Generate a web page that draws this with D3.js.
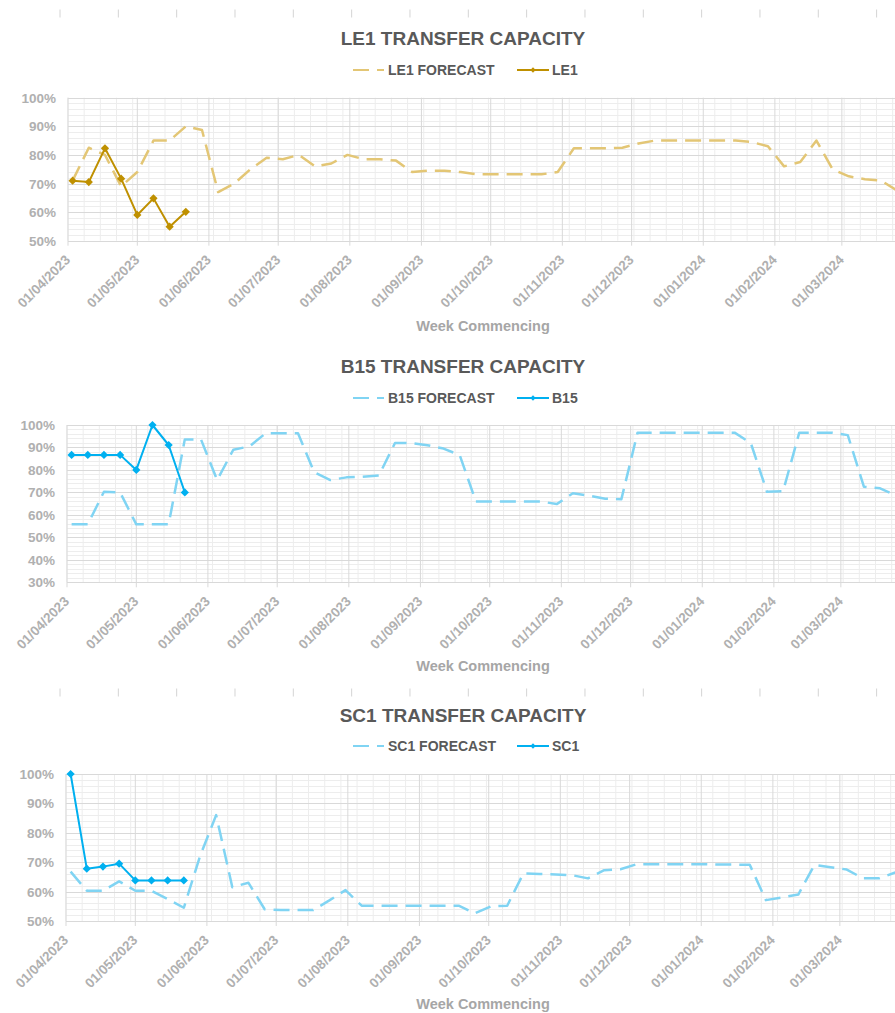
<!DOCTYPE html>
<html>
<head>
<meta charset="utf-8">
<script src="https://cdn.jsdelivr.net/npm/d3@7"></script>
<style>
  body { margin: 0; background: #fff; }
  svg { display: block; font-family: "Liberation Sans", Arial, sans-serif; }
</style>
</head>
<body>
<div id="container"></div>
<script>
// week commencing dates (Mondays)
var weeks = [
  "03/04/2023","10/04/2023","17/04/2023","24/04/2023","01/05/2023","08/05/2023","15/05/2023","22/05/2023","29/05/2023",
  "05/06/2023","12/06/2023","19/06/2023","26/06/2023","03/07/2023","10/07/2023","17/07/2023","24/07/2023","31/07/2023",
  "07/08/2023","14/08/2023","21/08/2023","28/08/2023","04/09/2023","11/09/2023","18/09/2023","25/09/2023",
  "02/10/2023","09/10/2023","16/10/2023","23/10/2023","30/10/2023","06/11/2023","13/11/2023","20/11/2023","27/11/2023",
  "04/12/2023","11/12/2023","18/12/2023","25/12/2023","01/01/2024","08/01/2024","15/01/2024","22/01/2024","29/01/2024",
  "05/02/2024","12/02/2024","19/02/2024","26/02/2024","04/03/2024","11/03/2024","18/03/2024","25/03/2024"
];

// values in %
var le1Forecast = [71, 82.5, 80, 69, 74, 85, 85, 90, 88.7, 67, 70, 75, 79, 78.5, 80, 76, 77, 80,
  78.5, 78.5, 78, 74, 74.5, 74.5, 74, 73.2, 73.2, 73.2, 73.2, 73.2, 74, 82.3, 82.3, 82.3, 82.5,
  84, 85, 85, 85, 85, 85, 85, 84.5, 83, 76, 77.5, 85, 75, 72.5, 71.5, 71, 67.5];
var le1Actual = [71, 70.5, 82.3, 71.7, 59, 64.8, 54.9, 60.1];

var b15Forecast = [55.8, 55.8, 70.3, 70, 55.8, 55.8, 55.8, 93.6, 93.6, 75.5, 89, 90.5, 96.3, 96.3, 96.3, 79, 75.5, 76.7,
  77, 77.5, 92, 92, 91, 89.5, 86.6, 66, 66, 66, 66, 66, 64.8, 69.6, 68.5, 67.2, 67,
  96.6, 96.6, 96.6, 96.6, 96.6, 96.6, 96.6, 92, 70.3, 70.5, 96.6, 96.6, 96.6, 95.5, 72.5, 71.8, 68.5];
var b15Actual = [86.7, 86.7, 86.7, 86.7, 80, 100, 91.1, 70];

var sc1Forecast = [66.8, 60.3, 60.3, 63.5, 60.3, 60.3, 57.5, 54.5, 72, 86, 61.5, 63, 54, 53.7, 53.7, 53.7, 57, 60.5,
  55.2, 55.2, 55.2, 55.2, 55.2, 55.2, 55.2, 52.6, 55, 55.2, 66.2, 66, 65.8, 65.6, 64.5, 67.3, 67.6,
  69.3, 69.3, 69.3, 69.3, 69.3, 69.2, 69.2, 69.1, 57.1, 58, 59, 69.1, 68.3, 67.5, 64.5, 64.5, 66.5];
var sc1Actual = [100, 67.8, 68.5, 69.5, 63.8, 63.8, 63.8, 63.8];

var parseDate = d3.utcParse("%d/%m/%Y");
var fmtDate = d3.utcFormat("%d/%m/%Y");
var axisStart = parseDate("01/04/2023"),
    axisEnd = parseDate("31/03/2024");

var w = 895, h = 1013;
var svg = d3.select("div#container")
  .append("svg")
  .attr("width", w)
  .attr("height", h);

svg.append("rect").attr("width", w).attr("height", h).attr("fill", "#fff");

// stray cell tick marks from the sheet
[13.5, 692.5].forEach(function(yy) {
  svg.append("g").selectAll("line")
    .data(d3.range(15))
    .enter().append("line")
    .attr("x1", function(i) { return 60 + i * 58.33; })
    .attr("x2", function(i) { return 60 + i * 58.33; })
    .attr("y1", yy - 4).attr("y2", yy + 4)
    .attr("stroke", "#d4d4d4").attr("stroke-width", 1);
});

var charts = [
  { code: "LE1", forecast: le1Forecast, actual: le1Actual, yMin: 50,
    left: 68, top: 97.7, bottom: 240.7, titleY: 45, legendY: 75, axisTitleY: 331,
    colA: "#bf9000", colF: "#e3c675" },
  { code: "B15", forecast: b15Forecast, actual: b15Actual, yMin: 30,
    left: 67, top: 425, bottom: 582.3, titleY: 373, legendY: 403, axisTitleY: 671,
    colA: "#00b0f0", colF: "#80d4f3" },
  { code: "SC1", forecast: sc1Forecast, actual: sc1Actual, yMin: 50,
    left: 66, top: 774, bottom: 921, titleY: 722, legendY: 751, axisTitleY: 1009,
    colA: "#00b0f0", colF: "#80d4f3" }
];

var pxPerDay = 2.31;

charts.forEach(function(c) {
  var g = svg.append("g");

  var x = d3.scaleUtc()
    .domain([axisStart, axisEnd])
    .range([c.left, c.left + pxPerDay * d3.utcDay.count(axisStart, axisEnd)]);
  var y = d3.scaleLinear()
    .domain([c.yMin, 100])
    .range([c.bottom, c.top]);

  var x0 = x.range()[0], x1 = x.range()[1];

  // minor gridlines
  var minorX = d3.utcDay.every(1).range(axisStart, axisEnd).filter(function(d, i) { return i % 7 === 0; });
  g.append("g").selectAll("line")
    .data(minorX)
    .enter().append("line")
    .attr("x1", function(d) { return x(d); }).attr("x2", function(d) { return x(d); })
    .attr("y1", c.top).attr("y2", c.bottom)
    .attr("stroke", "#ededed");
  g.append("g").selectAll("line")
    .data(d3.range(c.yMin, 100.01, 2))
    .enter().append("line")
    .attr("x1", x0).attr("x2", x1)
    .attr("y1", function(d) { return Math.round(y(d)) + 0.5; })
    .attr("y2", function(d) { return Math.round(y(d)) + 0.5; })
    .attr("stroke", "#ededed");

  // major gridlines
  var months = d3.utcMonth.range(axisStart, axisEnd);
  g.append("g").selectAll("line")
    .data(months)
    .enter().append("line")
    .attr("x1", function(d) { return x(d); }).attr("x2", function(d) { return x(d); })
    .attr("y1", c.top).attr("y2", c.bottom + 5)
    .attr("stroke", "#d9d9d9");
  g.append("g").selectAll("line")
    .data(d3.range(c.yMin, 100.01, 10))
    .enter().append("line")
    .attr("x1", x0).attr("x2", x1)
    .attr("y1", function(d) { return Math.round(y(d)) + 0.5; })
    .attr("y2", function(d) { return Math.round(y(d)) + 0.5; })
    .attr("stroke", "#d9d9d9");

  // y labels
  g.append("g").selectAll("text")
    .data(d3.range(c.yMin, 100.01, 10))
    .enter().append("text")
    .attr("x", c.left - 12)
    .attr("y", function(d) { return y(d) + 5; })
    .attr("text-anchor", "end")
    .attr("font-size", 13.5).attr("font-weight", "bold")
    .attr("fill", "#b0b0b0")
    .text(function(d) { return d + "%"; });

  // x labels
  g.append("g").selectAll("text")
    .data(months)
    .enter().append("text")
    .attr("transform", function(d) { return "translate(" + (x(d) + 3) + "," + (c.bottom + 20) + ") rotate(-45)"; })
    .attr("text-anchor", "end")
    .attr("font-size", 13.5).attr("font-weight", "bold")
    .attr("fill", "#b0b0b0")
    .text(function(d) { return fmtDate(d); });

  g.append("text")
    .attr("x", 483).attr("y", c.axisTitleY)
    .attr("text-anchor", "middle")
    .attr("font-size", 14.5).attr("font-weight", "bold")
    .attr("fill", "#a6a6a6")
    .text("Week Commencing");

  // title + legend
  g.append("text")
    .attr("x", 463).attr("y", c.titleY)
    .attr("text-anchor", "middle")
    .attr("font-size", 19).attr("font-weight", "bold")
    .attr("fill", "#595959")
    .text(c.code + " TRANSFER CAPACITY");

  g.append("line")
    .attr("x1", 353).attr("x2", 384)
    .attr("y1", c.legendY - 5).attr("y2", c.legendY - 5)
    .attr("stroke", c.colF).attr("stroke-width", 2)
    .attr("stroke-dasharray", "16,8");
  g.append("text")
    .attr("x", 388).attr("y", c.legendY)
    .attr("font-size", 14).attr("font-weight", "bold")
    .attr("fill", "#595959")
    .text(c.code + " FORECAST");
  g.append("line")
    .attr("x1", 517).attr("x2", 549)
    .attr("y1", c.legendY - 5).attr("y2", c.legendY - 5)
    .attr("stroke", c.colA).attr("stroke-width", 2);
  g.append("path")
    .attr("d", d3.symbol(d3.symbolSquare, 14)())
    .attr("transform", "translate(533," + (c.legendY - 5) + ") rotate(45)")
    .attr("fill", c.colA);
  g.append("text")
    .attr("x", 552).attr("y", c.legendY)
    .attr("font-size", 14).attr("font-weight", "bold")
    .attr("fill", "#595959")
    .text(c.code);

  // series
  var fData = c.forecast.map(function(v, i) { return { date: parseDate(weeks[i]), v: v }; });
  var aData = c.actual.map(function(v, i) { return { date: parseDate(weeks[i]), v: v }; });

  var line = d3.line()
    .x(function(d) { return x(d.date); })
    .y(function(d) { return y(d.v); });

  g.append("path")
    .datum(fData)
    .attr("d", line)
    .attr("fill", "none")
    .attr("stroke", c.colF)
    .attr("stroke-width", 2.5)
    .attr("stroke-dasharray", "16,8")
    .attr("stroke-linejoin", "round");

  g.append("path")
    .datum(aData)
    .attr("d", line)
    .attr("fill", "none")
    .attr("stroke", c.colA)
    .attr("stroke-width", 2)
    .attr("stroke-linejoin", "round");

  g.append("g").selectAll("path")
    .data(aData)
    .enter().append("path")
    .attr("d", d3.symbol(d3.symbolSquare, 34)())
    .attr("transform", function(d) { return "translate(" + x(d.date) + "," + y(d.v) + ") rotate(45)"; })
    .attr("fill", c.colA);
});
</script>
</body>
</html>
